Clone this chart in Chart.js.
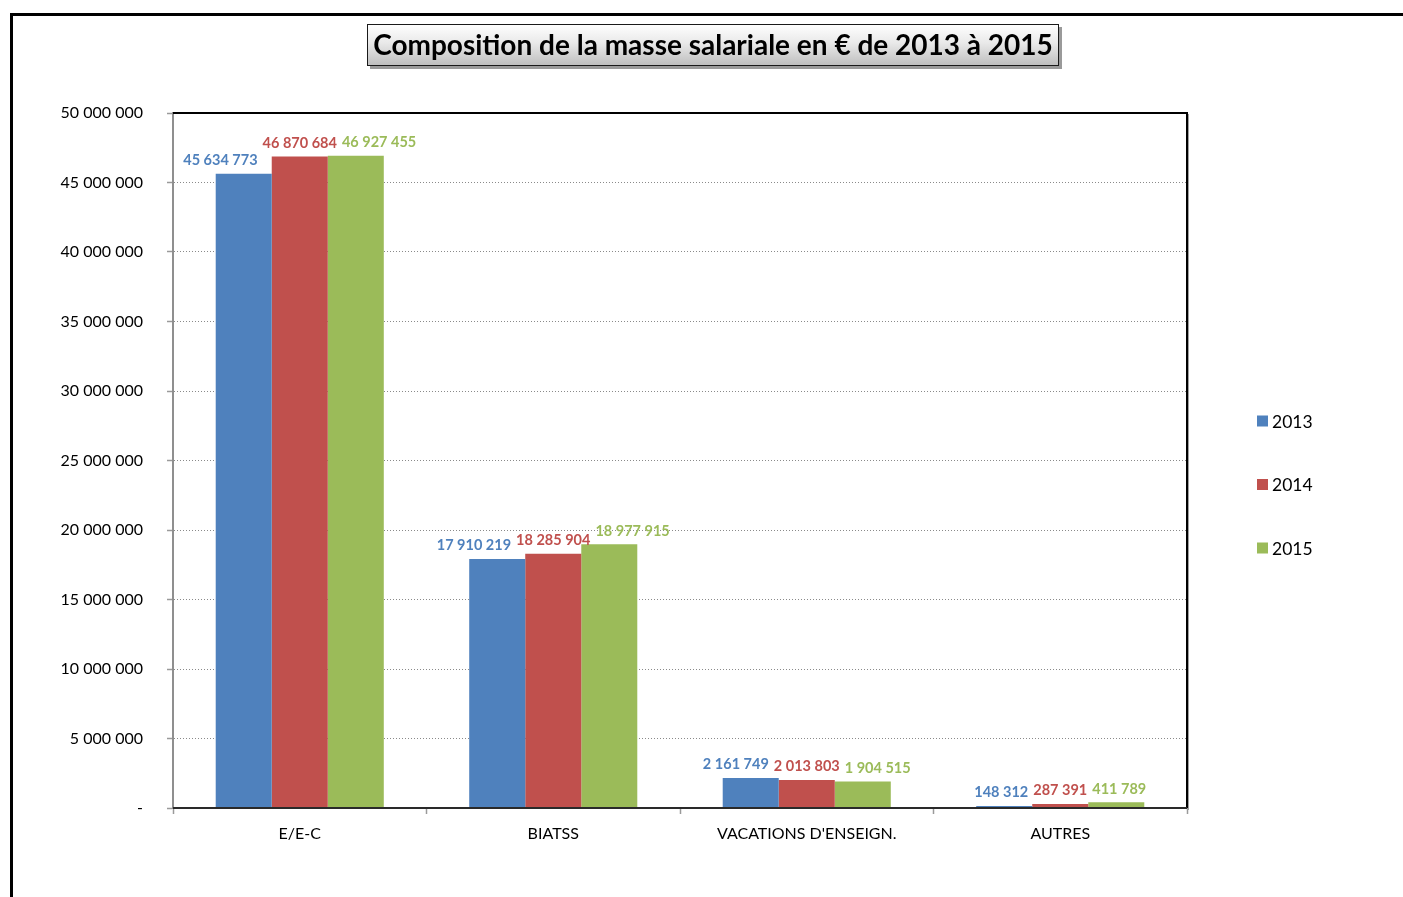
<!DOCTYPE html>
<html lang="fr">
<head>
<meta charset="utf-8">
<title>Composition de la masse salariale</title>
<script src="https://cdn.jsdelivr.net/npm/chart.js@4.4.1/dist/chart.umd.min.js"></script>
<style>
  html, body { margin: 0; padding: 0; background: #ffffff; }
  canvas { display: block; }
</style>
</head>
<body>
<canvas id="masse" width="1403" height="897"></canvas>
<script>
// Categories of staff and yearly payroll amounts (€)
const categories = ['E/E-C', 'BIATSS', "VACATIONS D'ENSEIGN.", 'AUTRES'];
const years = ['2013', '2014', '2015'];
const values2013 = [45634773, 17910219, 2161749, 148312];
const values2014 = [46870684, 18285904, 2013803, 287391];
const values2015 = [46927455, 18977915, 1904515, 411789];
const yTicks = [0, 5000000, 10000000, 15000000, 20000000, 25000000, 30000000, 35000000, 40000000, 45000000, 50000000];

const titleText = 'Composition de la masse salariale en € de 2013 à 2015';
const colors = ['#4F81BD', '#C0504D', '#9BBB59'];
const FONT = 'Lato, "Open Sans", sans-serif';

function fmt(v) {
  return Math.round(v).toString().replace(/\B(?=(\d{3})+(?!\d))/g, ' ');
}

// Outer frame and title box
const framePlugin = {
  id: 'frame',
  beforeDraw(chart) {
    const ctx = chart.ctx;
    ctx.save();
    ctx.fillStyle = '#ffffff';
    ctx.fillRect(0, 0, chart.width, chart.height);
    ctx.strokeStyle = '#000000';
    ctx.lineWidth = 3;
    ctx.beginPath();
    ctx.moveTo(11.5, chart.height);
    ctx.lineTo(11.5, 14.5);
    ctx.lineTo(chart.width, 14.5);
    ctx.stroke();
    ctx.restore();
  },
  afterDraw(chart) {
    const ctx = chart.ctx;
    const bx = 367, by = 24, bw = 692, bh = 42;
    ctx.save();
    // shadow
    ctx.fillStyle = '#9a9a9a';
    ctx.fillRect(bx + 3, by + 3, bw, bh);
    const g = ctx.createLinearGradient(0, by, 0, by + bh);
    g.addColorStop(0, '#ffffff');
    g.addColorStop(0.45, '#e9e9e9');
    g.addColorStop(1, '#bdbdbd');
    ctx.fillStyle = g;
    ctx.fillRect(bx, by, bw, bh);
    ctx.strokeStyle = '#1a1a1a';
    ctx.lineWidth = 1;
    ctx.strokeRect(bx + 0.5, by + 0.5, bw - 1, bh - 1);
    ctx.fillStyle = '#000000';
    ctx.font = 'bold 28px ' + FONT;
    ctx.textAlign = 'center';
    ctx.textBaseline = 'middle';
    ctx.fillText(titleText, bx + bw / 2, by + bh / 2 + 1);
    ctx.restore();
  }
};

// Plot area outline (top/right dark, bottom dark line over the axis)
const outlinePlugin = {
  id: 'outline',
  afterDatasetsDraw(chart) {
    const {ctx, chartArea: a} = chart;
    ctx.save();
    ctx.strokeStyle = '#000000';
    ctx.lineWidth = 2;
    ctx.beginPath();
    ctx.moveTo(a.left, a.top);
    ctx.lineTo(a.right, a.top);
    ctx.lineTo(a.right, a.bottom);
    ctx.stroke();
    ctx.strokeStyle = '#a0a0a0';
    ctx.lineWidth = 1;
    ctx.beginPath();
    ctx.moveTo(a.right + 1.5, a.top + 1);
    ctx.lineTo(a.right + 1.5, a.bottom + 2);
    ctx.stroke();
    ctx.strokeStyle = '#2a2a2a';
    ctx.lineWidth = 2;
    ctx.beginPath();
    ctx.moveTo(a.left, a.bottom);
    ctx.lineTo(a.right, a.bottom);
    ctx.stroke();
    ctx.restore();
  }
};

// Value labels above each bar, nudged sideways so neighbours don't collide
const valueLabelPlugin = {
  id: 'valueLabels',
  afterDatasetsDraw(chart) {
    const ctx = chart.ctx;
    const gap = 5;
    ctx.save();
    ctx.font = 'bold 14.5px ' + FONT;
    ctx.textAlign = 'center';
    ctx.textBaseline = 'bottom';
    const n = chart.data.labels.length;
    for (let i = 0; i < n; i++) {
      const items = chart.data.datasets.map((ds, d) => {
        const bar = chart.getDatasetMeta(d).data[i];
        const text = fmt(ds.data[i]);
        return {bar, text, w: ctx.measureText(text).width, x: bar.x, color: ds.borderColor};
      });
      const mid = items[1];
      const midL = mid.x - mid.w / 2, midR = mid.x + mid.w / 2;
      items[0].x = Math.min(items[0].x, midL - gap - items[0].w / 2);
      items[2].x = Math.max(items[2].x, midR + gap + items[2].w / 2);
      items.forEach(it => {
        ctx.fillStyle = it.color;
        ctx.fillText(it.text, it.x, it.bar.y - 6);
      });
    }
    ctx.restore();
  }
};

// Legend on the right side
const legendPlugin = {
  id: 'sideLegend',
  afterDraw(chart) {
    const ctx = chart.ctx;
    ctx.save();
    ctx.font = '17.5px ' + FONT;
    ctx.textBaseline = 'middle';
    ctx.textAlign = 'left';
    const x = 1257, y0 = 421, step = 63.5;
    chart.data.datasets.forEach((ds, d) => {
      const y = y0 + d * step;
      ctx.fillStyle = ds.backgroundColor;
      ctx.fillRect(x, y - 5.5, 11, 11);
      ctx.fillStyle = '#000000';
      ctx.fillText(ds.label, x + 15, y + 1);
    });
    ctx.restore();
  }
};

const seriesValues = [values2013, values2014, values2015];

new Chart(document.getElementById('masse'), {
  type: 'bar',
  data: {
    labels: categories,
    datasets: years.map((y, d) => ({
      label: y,
      data: seriesValues[d],
      backgroundColor: colors[d],
      borderColor: colors[d],
      borderWidth: 0,
      categoryPercentage: 0.663,
      barPercentage: 1.0
    }))
  },
  options: {
    responsive: false,
    devicePixelRatio: 1,
    animation: false,
    layout: { padding: { top: 113, right: 216, bottom: 0, left: 0 } },
    plugins: {
      legend: { display: false },
      title: { display: false },
      tooltip: { enabled: false }
    },
    scales: {
      x: {
        afterFit(scale) { scale.height = 89; },
        grid: {
          offset: true,
          drawOnChartArea: false,
          drawTicks: true,
          tickLength: 6,
          tickColor: '#9a9a9a',
          tickWidth: 1.5
        },
        border: { display: true, color: '#9a9a9a', width: 2 },
        ticks: {
          color: '#000000',
          font: { family: FONT, size: 16 },
          padding: 10,
          maxRotation: 0,
          autoSkip: false
        }
      },
      y: {
        min: 0,
        max: 50000000,
        afterFit(scale) { scale.width = 173; },
        afterBuildTicks(scale) { scale.ticks = yTicks.map(v => ({value: v})); },
        grid: {
          color: '#8a8a8a',
          lineWidth: 1,
          drawTicks: true,
          tickLength: 6,
          tickColor: '#9a9a9a',
          tickWidth: 1.5
        },
        border: { display: true, color: '#8f8f8f', width: 2, dash: [1, 2] },
        ticks: {
          color: '#000000',
          font: { family: FONT, size: 16 },
          padding: 24,
          callback: v => (v === 0 ? '-' : fmt(v))
        }
      }
    }
  },
  plugins: [framePlugin, outlinePlugin, valueLabelPlugin, legendPlugin]
});
</script>
</body>
</html>
